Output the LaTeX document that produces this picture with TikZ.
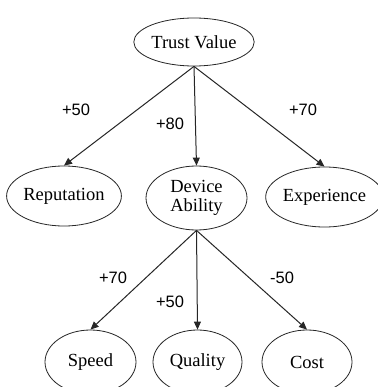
\documentclass[tikz,border=0pt]{standalone}
\usepackage{fontspec}
\setmainfont{Liberation Serif}
\newfontfamily\labfont{Liberation Sans}
\usetikzlibrary{shapes.geometric,arrows.meta}
\begin{document}
\begin{tikzpicture}[x=1pt,y=-1pt,
  ell/.style={draw=black!85,line width=0.8pt,ellipse,inner sep=0pt,font=\fontsize{18.5}{19}\selectfont,align=center},
  edge/.style={draw=black!85,line width=1pt,-{Triangle[length=8pt,width=7pt]}},
  lab/.style={font=\labfont\fontsize{16.5}{18}\selectfont,inner sep=0pt}]
\useasboundingbox[fill=white] (0,0) rectangle (377,387);
\node[ell,minimum width=98pt,minimum height=48pt] (tv) at (194,42) {Trust Value};
\node[ell,minimum width=104pt,minimum height=60pt] (rep) at (64,196) {Reputation};
\node[ell,minimum width=101pt,minimum height=64pt] (dev) at (196.5,198) {Device\\Ability};
\node[ell,minimum width=95pt,minimum height=60pt] (exp) at (324.5,197) {Experience};
\node[ell,minimum width=91pt,minimum height=64pt] (spd) at (90.5,362) {Speed};
\node[ell,minimum width=89pt,minimum height=64pt] (qual) at (197.5,362) {Quality};
\node[ell,minimum width=90pt,minimum height=64pt] (cost) at (307,362) {Cost};
\draw[edge] (tv.south) -- (rep.north);
\draw[edge] (tv.south) -- (dev.north);
\draw[edge] (tv.south) -- (exp.north);
\draw[edge] (dev.south) -- (spd.north);
\draw[edge] (dev.south) -- (qual.north);
\draw[edge] (dev.south) -- (cost.north);
\node[lab] (l1) at (76,110) {+50};
\node[lab] (l2) at (170,124) {+80};
\node[lab] (l3) at (303,110) {+70};
\node[lab] (l4) at (113,278) {+70};
\node[lab] (l5) at (170,302) {+50};
\node[lab] (l6) at (282,278) {-50};
\end{tikzpicture}
\end{document}
